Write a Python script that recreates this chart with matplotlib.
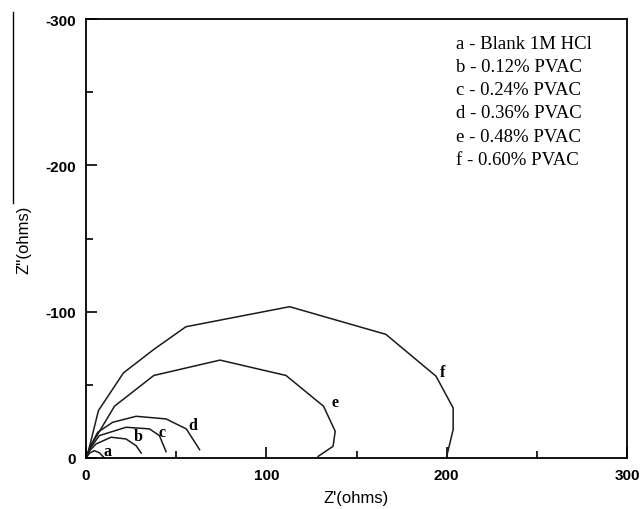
import matplotlib.pyplot as plt
from matplotlib.lines import Line2D
from matplotlib.ticker import MultipleLocator

plt.rcParams['axes.unicode_minus'] = False

# Nyquist data: Z' (ohms) and -Z'' (ohms)
a_x = [0, 2, 4.6, 7.5, 10.2]
a_y = [0, 3.4, 5.0, 3.5, 0.0]
b_x = [0, 2, 5.6, 13.9, 22.2, 27.8, 30.6]
b_y = [0, 5, 9.6, 14.2, 13.0, 8.4, 3.4]
c_x = [0, 2, 7.4, 22.2, 35.2, 40.7, 44.4]
c_y = [0, 6, 15.3, 21.0, 19.9, 15.3, 4.3]
d_x = [0, 2, 6.5, 14.8, 27.8, 44.4, 55.6, 63.0]
d_y = [0, 7, 17.6, 24.4, 28.5, 26.7, 19.9, 5.7]
e_x = [0, 3, 15.8, 37.6, 74.3, 110.9, 131.7, 138.2, 137.0, 128.7]
e_y = [0, 9, 35.4, 56.4, 66.9, 56.4, 35.4, 18.3, 8.0, 1.1]
f_x = [0, 1, 6.9, 20.8, 37.6, 55.4, 112.9, 166.3, 194.1, 203.6, 203.6, 200.0]
f_y = [0, 3, 32.4, 58.2, 74.2, 89.7, 103.4, 84.5, 55.9, 34.2, 19.4, 1.1]

curves = {'a': (a_x, a_y), 'b': (b_x, b_y), 'c': (c_x, c_y),
          'd': (d_x, d_y), 'e': (e_x, e_y), 'f': (f_x, f_y)}
label_pos = {'a': (11.7, 4.8), 'b': (28.9, 15.0), 'c': (42.3, 17.8),
             'd': (59.5, 22.6), 'e': (138.0, 38.4), 'f': (197.5, 58.9)}

legend_lines = ['a - Blank 1M HCl', 'b - 0.12% PVAC', 'c - 0.24% PVAC',
                'd - 0.36% PVAC', 'e - 0.48% PVAC', 'f - 0.60% PVAC']

fig = plt.figure(figsize=(6.43, 5.1), dpi=100)
ax = fig.add_axes([86 / 643, 51 / 510, 541 / 643, 439 / 510])

for key, (xs, ys) in curves.items():
    ax.plot(xs, [-v for v in ys], color='#1a1a1a', lw=1.1)
    lx, ly = label_pos[key]
    ax.text(lx, -ly, key, fontsize=11.5, fontweight='bold', family='Liberation Serif',
            ha='center', va='center')

ax.set_xlim(0, 300)
ax.set_ylim(0, -300)
ax.xaxis.set_major_locator(MultipleLocator(100))
ax.xaxis.set_minor_locator(MultipleLocator(50))
ax.yaxis.set_major_locator(MultipleLocator(100))
ax.yaxis.set_minor_locator(MultipleLocator(50))
ax.tick_params(which='both', direction='in', width=1.2)
ax.tick_params(which='major', length=8, labelsize=11, pad=7)
ax.tick_params(which='minor', length=5)
for lbl in ax.get_xticklabels() + ax.get_yticklabels():
    lbl.set_fontweight('bold')
    lbl.set_family('Liberation Sans')
for sp in ax.spines.values():
    sp.set_linewidth(1.3)

ax.set_xlabel("Z'(ohms)", fontsize=12, family='Liberation Sans', labelpad=6)
ax.set_ylabel("Z''(ohms)", fontsize=12, family='Liberation Sans', labelpad=10)

for i, line in enumerate(legend_lines):
    ax.text(0.684, 0.945 - i * 0.053, line, transform=ax.transAxes, fontsize=13.5,
            family='Liberation Serif', va='center', ha='left')

# stray vertical rule at the left edge of the scanned figure
fig.add_artist(Line2D([13 / 643, 13 / 643], [1 - 13 / 510, 1 - 204 / 510],
                      color='black', lw=1.0))

fig.savefig('out.png', dpi=100)
